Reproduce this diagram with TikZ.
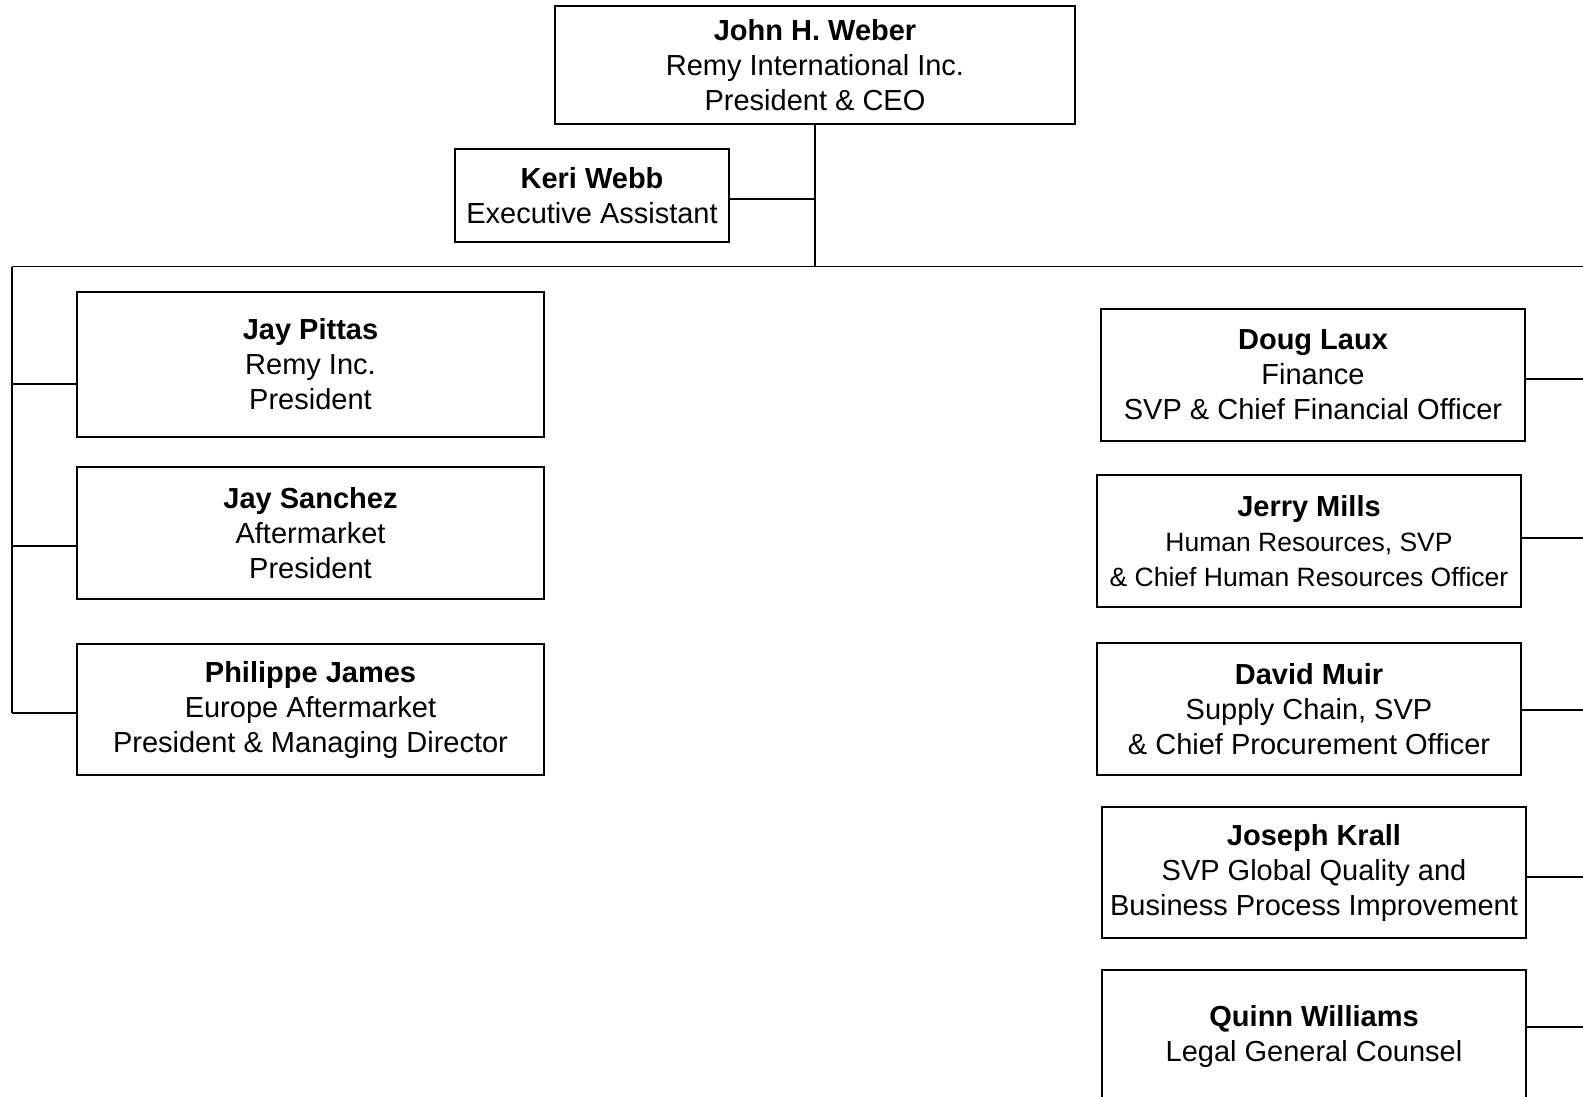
\documentclass[tikz,border=0pt]{standalone}
\usepackage{fontspec}
\setmainfont{Liberation Sans}
\begin{document}
\begin{tikzpicture}[x=1pt,y=-1pt,
  orgbox/.style={draw, line width=1.2pt, align=center, inner sep=0pt,
    font=\fontsize{29}{35}\selectfont},
  link/.style={line width=1.5pt}]
\useasboundingbox (0,0) rectangle (1583,1097);
\clip (0,0) rectangle (1583,1097);
% boxes
\node[orgbox, minimum width=520pt, minimum height=118pt] (ceo) at (815,65)
  {\textbf{John H. Weber}\\Remy International Inc.\\President \& CEO};
\node[orgbox, minimum width=274pt, minimum height=93pt] (keri) at (592,195.5)
  {\textbf{Keri Webb}\\Executive Assistant};
\node[orgbox, minimum width=467pt, minimum height=145pt] (pittas) at (310.5,364.5)
  {\textbf{Jay Pittas}\\Remy Inc.\\President};
\node[orgbox, minimum width=467pt, minimum height=132pt] (sanchez) at (310.5,533)
  {\textbf{Jay Sanchez}\\Aftermarket\\President};
\node[orgbox, minimum width=467pt, minimum height=131pt] (james) at (310.5,709.5)
  {\textbf{Philippe James}\\Europe Aftermarket\\President \& Managing Director};
\node[orgbox, minimum width=424pt, minimum height=132pt] (laux) at (1313,375)
  {\textbf{Doug Laux}\\Finance\\SVP \& Chief Financial Officer};
\node[orgbox, minimum width=424pt, minimum height=132pt] (mills) at (1309,541)
  {\textbf{Jerry Mills}\\\fontsize{26.5}{32}\selectfont Human Resources, SVP\\\fontsize{26.5}{32}\selectfont \& Chief Human Resources Officer};
\node[orgbox, minimum width=424pt, minimum height=132pt] (muir) at (1309,709)
  {\textbf{David Muir}\\Supply Chain, SVP\\\& Chief Procurement Officer};
\node[orgbox, minimum width=424pt, minimum height=131pt] (krall) at (1314,872.5)
  {\textbf{Joseph Krall}\\SVP Global Quality and\\Business Process Improvement};
\node[orgbox, minimum width=424pt, minimum height=133pt] (williams) at (1314,1036.5)
  {\textbf{Quinn Williams}\\Legal General Counsel};
% connector coordinates
\coordinate (busL) at (12,266.5);
\coordinate (busR) at (1583,266.5);
\coordinate (kj) at (815,199);
\coordinate (lp) at (12,384);
\coordinate (ls) at (12,546);
\coordinate (lj) at (12,713);
\coordinate (rl) at (1583,379);
\coordinate (rm) at (1583,538);
\coordinate (ru) at (1583,710);
\coordinate (rk) at (1583,877);
\coordinate (rw) at (1583,1027);
% connectors
\draw[link] (ceo.south) -- (ceo.south |- busL);
\draw[link] (kj -| keri.east) -- (kj);
\draw[link] (busL) -- (busR);
\draw[link] (busL) -- (lj);
\draw[link] (lp) -- (lp -| pittas.west);
\draw[link] (ls) -- (ls -| sanchez.west);
\draw[link] (lj) -- (lj -| james.west);
\draw[link] (rl -| laux.east) -- (rl);
\draw[link] (rm -| mills.east) -- (rm);
\draw[link] (ru -| muir.east) -- (ru);
\draw[link] (rk -| krall.east) -- (rk);
\draw[link] (rw -| williams.east) -- (rw);
\end{tikzpicture}
\end{document}
